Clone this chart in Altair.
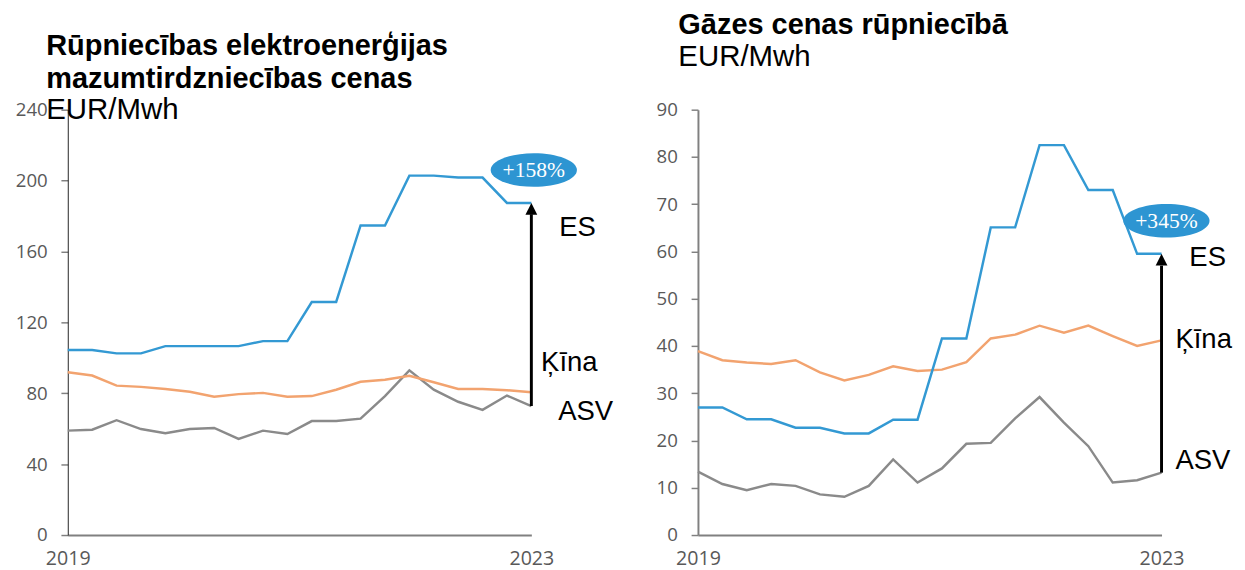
import altair as alt
import pandas as pd

# ---- data ----
idx = list(range(20))  # periods from 2019 to 2023
x_labels = ["2019", "2023"]
series = ["ES", "Ķīna", "ASV"]

elec_es = [104.4, 104.4, 102.5, 102.5, 106.6, 106.6, 106.6, 106.6, 109.4, 109.4,
           131.5, 131.5, 174.7, 174.7, 202.8, 202.8, 201.7, 201.7, 187.4, 187.4]
elec_cn = [91.9, 90.0, 84.3, 83.6, 82.4, 80.8, 78.0, 79.5, 80.2, 78.0,
           78.4, 82.0, 86.5, 87.6, 89.9, 86.2, 82.4, 82.4, 81.7, 80.6]
elec_us = [58.9, 59.4, 64.8, 59.8, 57.4, 59.8, 60.4, 54.2, 58.9, 57.0,
           64.3, 64.3, 65.7, 78.4, 92.9, 82.0, 75.2, 70.6, 78.7, 72.8]

gas_es = [27.0, 27.0, 24.5, 24.5, 22.7, 22.7, 21.5, 21.5, 24.4, 24.4,
          41.6, 41.6, 65.1, 65.1, 82.5, 82.5, 73.0, 73.0, 59.5, 59.5]
gas_cn = [38.9, 37.0, 36.5, 36.2, 37.0, 34.4, 32.7, 33.9, 35.7, 34.7,
          35.0, 36.6, 41.6, 42.4, 44.3, 42.8, 44.3, 42.1, 40.0, 41.2]
gas_us = [13.4, 10.8, 9.5, 10.8, 10.4, 8.6, 8.1, 10.4, 16.0, 11.1,
          14.1, 19.3, 19.5, 24.7, 29.2, 23.8, 18.8, 11.1, 11.6, 13.2]

elec_badge = "+158%"
gas_badge = "+345%"

# annotation anchors (data units)
elec_label_x = [20.14, 19.4, 20.1]
elec_label_y = [173.3, 97.2, 69.4]
gas_label_x = [20.14, 19.57, 19.57]
gas_label_y = [58.6, 41.2, 15.7]

COLORS = {"ES": "#3399d3", "Ķīna": "#f2a36f", "ASV": "#8a8a8a"}
BADGE = "#2d95d2"
LABEL_FONT = "Liberation Sans"
TICK_FONT = "Open Sans"

ELLIPSE = ("M-1,0C-1,-0.215,-0.552,-0.39,0,-0.39C0.552,-0.39,1,-0.215,1,0"
           "C1,0.215,0.552,0.39,0,0.39C-0.552,0.39,-1,0.215,-1,0Z")
ARROW = "M0,0L0.6,1.2L-0.6,1.2Z"


def panel(es, cn, us, ymax, ystep, badge_text, badge_pos, lab_x, lab_y,
          arrow_top, title_lines, title_dx, title_offset, ydomain_color, ydomain_w):
    xs = alt.X("i:Q", scale=alt.Scale(domain=[0, 19], nice=False, zero=False),
               axis=alt.Axis(values=[0, 19],
                             labelExpr=f"datum.value == 0 ? '{x_labels[0]}' : '{x_labels[1]}'",
                             grid=False, ticks=False, domainColor="#808080", domainWidth=2,
                             labelFont=TICK_FONT, labelFontSize=20, labelColor="#595959",
                             labelPadding=14, labelFlush=False),
               title=None)
    ys = alt.Y("v:Q", scale=alt.Scale(domain=[0, ymax], nice=False),
               axis=alt.Axis(values=list(range(0, ymax + 1, ystep)), grid=False,
                             domainColor=ydomain_color, domainWidth=ydomain_w,
                             tickColor="#808080", tickSize=7, tickWidth=1.5,
                             labelFont=TICK_FONT, labelFontSize=19, labelColor="#595959",
                             labelPadding=14),
               title=None)

    layers = []
    for name, vals in (("ASV", us), ("Ķīna", cn), ("ES", es)):
        d = pd.DataFrame({"i": idx, "v": vals})
        layers.append(alt.Chart(d).mark_line(color=COLORS[name], strokeWidth=2.5).encode(x=xs, y=ys))

    arrow_df = pd.DataFrame({"i": [19], "v": [us[-1]], "v2": [arrow_top], "top": [es[-1]]})
    layers.append(alt.Chart(arrow_df).mark_rule(color="black", strokeWidth=3).encode(
        x=xs, y=ys, y2="v2:Q"))
    layers.append(alt.Chart(arrow_df).mark_point(shape=ARROW, filled=True, color="black",
                                                 size=400, opacity=1).encode(
        x=xs, y=alt.Y("top:Q")))

    badge_df = pd.DataFrame({"i": [badge_pos[0]], "v": [badge_pos[1]], "t": [badge_text]})
    layers.append(alt.Chart(badge_df).mark_point(shape=ELLIPSE, filled=True, color=BADGE,
                                                 size=7744, opacity=1).encode(x=xs, y=ys))
    layers.append(alt.Chart(badge_df).mark_text(font="Liberation Serif", fontSize=22,
                                                color="white", baseline="middle",
                                                align="center").encode(x=xs, y=ys, text="t:N"))

    lab_df = pd.DataFrame({"i": lab_x, "v": lab_y, "t": series})
    layers.append(alt.Chart(lab_df).mark_text(font=LABEL_FONT, fontSize=28, color="black",
                                              align="left", baseline="middle").encode(
        x=xs, y=ys, text="t:N"))

    return alt.layer(*layers).properties(
        width=473, height=434,
        view=alt.ViewBackground(stroke="transparent", strokeWidth=0),
        title=alt.TitleParams(text=title_lines, subtitle="EUR/Mwh", anchor="start",
                              frame="group", dx=title_dx, offset=title_offset,
                              font=LABEL_FONT, fontSize=29.5, fontWeight="bold", color="black",
                              lineHeight=33, subtitleFont=LABEL_FONT, subtitleFontSize=30,
                              subtitleColor="black", subtitleFontWeight="normal",
                              subtitlePadding=2),
    )


left = panel(elec_es, elec_cn, elec_us, 240, 40, elec_badge, (19.1, 206.0),
             elec_label_x, elec_label_y, 181.0,
             ["Rūpniecības elektroenerģijas", "mazumtirdzniecības cenas"], -22, -26,
             "#222222", 1)
right = panel(gas_es, gas_cn, gas_us, 90, 10, gas_badge, (19.2, 66.5),
              gas_label_x, gas_label_y, 57.0,
              ["Gāzes cenas rūpniecībā"], -20, 29, "#808080", 2)

chart = alt.hconcat(left, right, spacing=170, bounds="flush").properties(
    padding={"left": 7, "top": -4, "right": 5, "bottom": 0}
).configure_view(stroke="transparent", strokeWidth=0).configure(background="white")

chart.save("out.html", embed_options={"renderer": "svg", "actions": False})
